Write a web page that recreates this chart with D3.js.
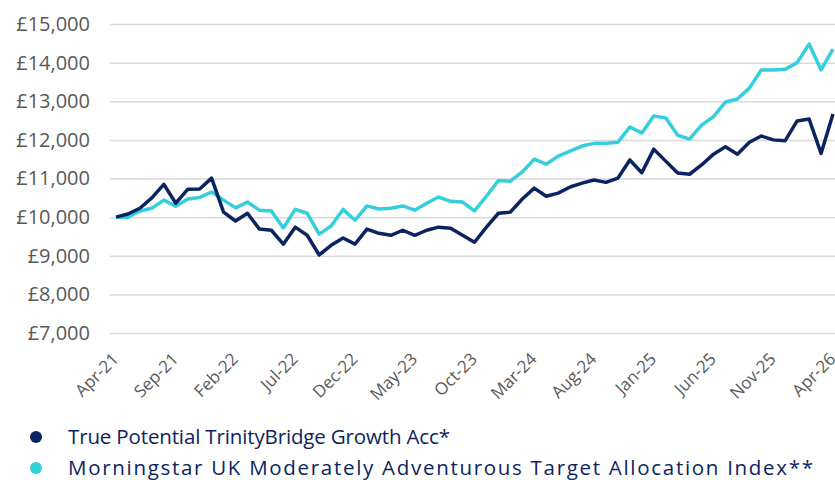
<!DOCTYPE html>
<html>
<head>
<meta charset="utf-8">
<script src="https://cdn.jsdelivr.net/npm/d3@7"></script>
<style>
  body { margin: 0; background: #fff; }
  svg { display: block; font-family: "Open Sans", "Noto Sans", sans-serif; }
</style>
</head>
<body>
<div id="chart"></div>
<script>
// Monthly values, Apr-21 .. Apr-26 (growth of £10,000)
const startMonth = new Date(2021, 3, 1);
const endMonth = new Date(2026, 4, 1);
const months = d3.timeMonth.range(startMonth, endMonth);

const fundValues = [
  10000, 10080, 10230, 10500, 10850, 10360, 10720, 10730, 11010, 10130,
  9900, 10100, 9690, 9660, 9300, 9740, 9530, 9020, 9270, 9460,
  9300, 9690, 9580, 9530, 9660, 9530, 9660, 9740, 9710, 9530,
  9350, 9740, 10100, 10130, 10470, 10750, 10540, 10620, 10780, 10880,
  10960, 10900, 11010, 11480, 11150, 11760, 11450, 11140, 11110, 11350,
  11630, 11820, 11630, 11940, 12100, 12000, 11980, 12490, 12540, 11650,
  12670
];

const indexValues = [
  10000, 10000, 10160, 10230, 10440, 10280, 10470, 10510, 10650, 10440,
  10240, 10390, 10180, 10160, 9720, 10200, 10100, 9560, 9770, 10200,
  9920, 10290, 10210, 10230, 10290, 10180, 10360, 10520, 10410, 10390,
  10160, 10540, 10950, 10930, 11170, 11500, 11370, 11580, 11710, 11840,
  11910, 11910, 11940, 12330, 12180, 12620, 12570, 12120, 12020, 12380,
  12600, 12980, 13060, 13340, 13810, 13810, 13830, 14000, 14480, 13810,
  14350
];

const yTicks = [7000, 8000, 9000, 10000, 11000, 12000, 13000, 14000, 15000];
const xTickLabels = ["Apr-21", "Sep-21", "Feb-22", "Jul-22", "Dec-22", "May-23", "Oct-23",
  "Mar-24", "Aug-24", "Jan-25", "Jun-25", "Nov-25", "Apr-26"];

const seriesNames = [
  "True Potential TrinityBridge Growth Acc*",
  "Morningstar UK Moderately Adventurous Target Allocation Index**"
];
const seriesColors = ["#0b2461", "#33cfdb"];
const legendWidths = [382, 745]; // text widths in the original

const W = 835, H = 480;
const FONT = "'Open Sans', 'Noto Sans', sans-serif";
const fmtMonth = d3.timeFormat("%b-%y");

const svg = d3.select("#chart").append("svg")
  .attr("width", W)
  .attr("height", H);

const x = d3.scalePoint()
  .domain(months.map(fmtMonth))
  .range([116, 833]);

const y = d3.scaleLinear()
  .domain([7000, 15000])
  .range([333, 24]);

// grid + y labels
const yAxis = svg.append("g")
  .attr("transform", "translate(110,0)")
  .call(d3.axisLeft(y)
    .tickValues(yTicks)
    .tickSize(-(W - 110))
    .tickPadding(20)
    .tickFormat(d => "£" + d3.format(",")(d)))
  .attr("font-family", FONT);
yAxis.select(".domain").remove();
yAxis.selectAll(".tick line").attr("stroke", "#d9d9d9").attr("stroke-width", 1.5);
yAxis.selectAll(".tick text")
  .attr("fill", "#595959")
  .attr("font-size", 20);

// x labels
const xAxis = svg.append("g")
  .attr("transform", "translate(0,354)")
  .call(d3.axisBottom(x).tickValues(xTickLabels).tickSize(0).tickPadding(0))
  .attr("font-family", FONT);
xAxis.select(".domain").remove();
xAxis.selectAll(".tick text")
  .attr("fill", "#595959")
  .attr("font-size", 17)
  .attr("text-anchor", "end")
  .attr("y", 0)
  .attr("dy", "0.35em")
  .attr("transform", "translate(-1,2) rotate(-45)");

// lines
const line = d3.line()
  .x((d, i) => x(fmtMonth(months[i])))
  .y(d => y(d));

[indexValues, fundValues].forEach((vals, k) => {
  svg.append("path")
    .datum(vals)
    .attr("fill", "none")
    .attr("stroke", seriesColors[1 - k])
    .attr("stroke-width", 3.5)
    .attr("stroke-linejoin", "round")
    .attr("d", line);
});

// legend
const legend = svg.append("g").attr("font-family", FONT);
seriesNames.forEach((name, i) => {
  const ly = 437 + i * 31;
  legend.append("circle")
    .attr("cx", 36)
    .attr("cy", ly)
    .attr("r", 6)
    .attr("fill", seriesColors[i]);
  legend.append("text")
    .attr("x", 68)
    .attr("y", ly + 7)
    .attr("fill", "#0b2461")
    .attr("font-size", 20.5)
    .attr("textLength", legendWidths[i])
    .attr("lengthAdjust", "spacing")
    .text(name);
});
</script>
</body>
</html>
